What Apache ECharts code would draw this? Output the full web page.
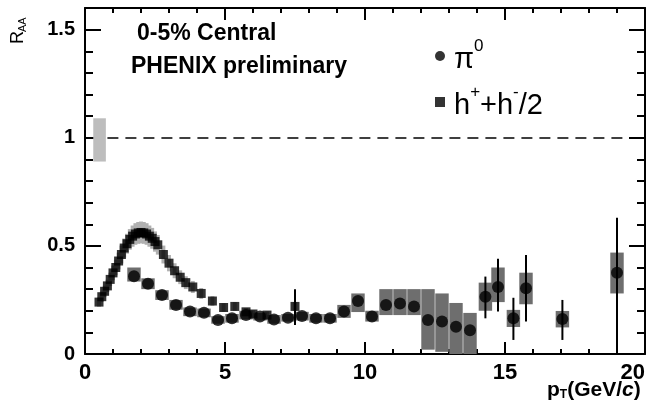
<!DOCTYPE html>
<html>
<head>
<meta charset="utf-8">
<script src="https://cdn.jsdelivr.net/npm/echarts@6/dist/echarts.min.js"></script>
<style>html,body{margin:0;padding:0;background:#fff}#c{width:654px;height:405px}</style>
</head>
<body>
<div id="c"></div>
<script>
// ---------- data ----------
const xTicks = [0, 5, 10, 15, 20];
const yTicks = [0, 0.5, 1, 1.5];

// charged hadrons (h+ + h-)/2
const hPt  = [0.5,0.6,0.7,0.8,0.9,1.0,1.1,1.2,1.3,1.4,1.5,1.6,1.7,1.8,1.9,2.0,2.1,2.2,2.3,2.4,2.5,2.6,2.8,3.0,3.2,3.4,3.6,3.85,4.15,4.55,4.95,5.35,5.75,6.0,6.5,7.5];
const hRaa = [0.24,0.265,0.29,0.315,0.345,0.375,0.40,0.43,0.46,0.49,0.51,0.53,0.545,0.555,0.56,0.562,0.56,0.555,0.545,0.535,0.52,0.505,0.46,0.42,0.385,0.355,0.33,0.31,0.28,0.245,0.215,0.22,0.195,0.185,0.18,0.22];
const hSysRel = 0.09;
const hErrPt = [7.5];
const hErrLo = [0.134];
const hErrHi = [0.30];

// pi0
const pi0Pt  = [1.75,2.25,2.75,3.25,3.75,4.25,4.75,5.25,5.75,6.25,6.75,7.25,7.75,8.25,8.75,9.25,9.75,10.25,10.75,11.25,11.75,12.25,12.75,13.25,13.75,14.3,14.75,15.3,15.75,17.05,19.0];
const pi0Raa = [0.36,0.325,0.273,0.227,0.196,0.191,0.157,0.165,0.18,0.173,0.16,0.168,0.176,0.165,0.165,0.196,0.245,0.173,0.227,0.234,0.22,0.157,0.15,0.126,0.11,0.265,0.31,0.165,0.304,0.162,0.376];
const pi0SysLo = [0.335,0.30,0.25,0.205,0.175,0.17,0.14,0.145,0.16,0.155,0.14,0.15,0.155,0.145,0.145,0.167,0.194,0.15,0.18,0.18,0.18,0.02,0.01,0.0,0.0,0.20,0.24,0.125,0.23,0.123,0.28];
const pi0SysHi = [0.40,0.35,0.295,0.25,0.215,0.21,0.175,0.185,0.20,0.19,0.18,0.185,0.195,0.185,0.185,0.227,0.28,0.20,0.30,0.30,0.30,0.30,0.28,0.236,0.19,0.33,0.40,0.204,0.376,0.199,0.469];
const pi0ErrPt = [14.3,14.75,15.3,15.75,17.05,19.0];
const pi0ErrLo = [0.165,0.196,0.065,0.15,0.065,0.0];
const pi0ErrHi = [0.358,0.44,0.26,0.458,0.25,0.63];

// normalisation uncertainty box at R_AA = 1
const normPt = [0.52];
const normLo = [0.89];
const normHi = [1.09];
const refLevel = 1;
const refStart = 0.8;

// ---------- chart ----------
const chart = echarts.init(document.getElementById('c'));

function boxSeries(data, width, color, z) {
  return {
    type: 'custom', z: z, silent: true, clip: true,
    data: data,
    renderItem: function (params, api) {
      const x = api.value(0), lo = api.value(1), hi = api.value(2);
      const p1 = api.coord([x - width / 2, hi]);
      const p2 = api.coord([x + width / 2, lo]);
      return { type: 'rect', shape: { x: p1[0], y: p1[1], width: p2[0] - p1[0], height: p2[1] - p1[1] },
               style: { fill: color } };
    }
  };
}
function errSeries(data, z) {
  return {
    type: 'custom', z: z, silent: true, clip: true,
    data: data,
    renderItem: function (params, api) {
      const x = api.value(0);
      const a = api.coord([x, api.value(1)]);
      const b = api.coord([x, api.value(2)]);
      return { type: 'line', shape: { x1: a[0], y1: a[1], x2: b[0], y2: b[1] },
               style: { stroke: '#000', lineWidth: 2 } };
    }
  };
}

const hBoxes = hPt.map((x, i) => [x, hRaa[i] * (1 - hSysRel), hRaa[i] * (1 + hSysRel)]);
const pi0Boxes = pi0Pt.map((x, i) => [x, pi0SysLo[i], pi0SysHi[i]]);
const pi0Errs = pi0ErrPt.map((x, i) => [x, pi0ErrLo[i], pi0ErrHi[i]]);
const hErrs = hErrPt.map((x, i) => [x, hErrLo[i], hErrHi[i]]);
const normBoxes = normPt.map((x, i) => [x, normLo[i], normHi[i]]);

const fam = '"Liberation Sans", Arial, sans-serif';
function axisBase(extra) {
  return Object.assign({
    type: 'value',
    axisLine: { onZero: false, lineStyle: { color: '#000', width: 2 } },
    splitLine: { show: false },
  }, extra);
}

const option = {
  animation: false,
  backgroundColor: '#fff',
  grid: { left: 85, right: 9, top: 8, bottom: 51, containLabel: false },
  xAxis: [
    axisBase({
      min: 0, max: 20, interval: 5, position: 'bottom',
      axisTick: { inside: true, length: 12, lineStyle: { color: '#000', width: 2 } },
      minorTick: { show: true, splitNumber: 5, length: 5, lineStyle: { color: '#000', width: 2 } },
      axisLabel: { color: '#000', fontFamily: fam, fontWeight: 'bold', fontSize: 22, margin: 8,
                   alignMaxLabel: 'right',
                   formatter: v => xTicks.includes(v) ? String(v) : '' },
    }),
    axisBase({
      min: 0, max: 20, interval: 5, position: 'top',
      axisTick: { inside: true, length: 12, lineStyle: { color: '#000', width: 2 } },
      minorTick: { show: true, splitNumber: 5, length: 5, lineStyle: { color: '#000', width: 2 } },
      axisLabel: { show: false },
    })
  ],
  yAxis: [
    axisBase({
      min: 0, max: 1.6, interval: 0.5, position: 'left',
      axisTick: { inside: true, length: 16, lineStyle: { color: '#000', width: 2 } },
      minorTick: { show: true, splitNumber: 5, length: 8, lineStyle: { color: '#000', width: 2 } },
      axisLabel: { color: '#000', fontFamily: fam, fontWeight: 'bold', fontSize: 20, margin: 10,
                   formatter: v => yTicks.includes(Math.round(v * 10) / 10) ? String(Math.round(v * 10) / 10) : '' },
    }),
    axisBase({
      min: 0, max: 1.6, interval: 0.5, position: 'right',
      axisTick: { inside: true, length: 16, lineStyle: { color: '#000', width: 2 } },
      minorTick: { show: true, splitNumber: 5, length: 8, lineStyle: { color: '#000', width: 2 } },
      axisLabel: { show: false },
    })
  ],
  legend: {
    orient: 'vertical', left: 430, top: 33, itemGap: 10,
    itemWidth: 10, itemHeight: 10,
    data: [ { name: 'pi0', icon: 'circle' }, { name: 'hch', icon: 'rect' } ],
    textStyle: {
      color: '#000', padding: [0, 0, 0, 4],
      rich: {
        b: { fontFamily: fam, fontSize: 29, color: '#000', lineHeight: 36, verticalAlign: 'bottom' },
        s: { fontFamily: fam, fontSize: 17, color: '#000', lineHeight: 36, verticalAlign: 'top' }
      }
    },
    formatter: n => n === 'pi0' ? '{b|π}{s|0}' : '{b|h}{s|+}{b|+h}{s|-}{b|/2}'
  },
  graphic: [
    { type: 'text', left: 137, top: 22, style: { text: '0-5% Central', fontFamily: fam, fontWeight: 'bold', fontSize: 23, fill: '#000' } },
    { type: 'text', left: 131, top: 55, style: { text: 'PHENIX preliminary', fontFamily: fam, fontWeight: 'bold', fontSize: 23, fill: '#000' } },
    { type: 'text', left: 547, top: 380, style: {
        text: '{a|p}{t|T}{a|(GeV/}{i|c}{a|)}',
        rich: {
          a: { fontFamily: fam, fontWeight: 'bold', fontSize: 21, color: '#000' },
          i: { fontFamily: fam, fontWeight: 'bold', fontStyle: 'italic', fontSize: 21, color: '#000' },
          t: { fontFamily: fam, fontWeight: 'bold', fontSize: 12, color: '#000', verticalAlign: 'bottom', padding: [9, 0, 0, 0] }
        } } },
    // rotated y-axis title R_AA (reads bottom to top)
    { type: 'text', x: 27, y: 44, rotation: Math.PI / 2,
      style: { text: 'R', fontFamily: fam, fontSize: 18, fill: '#000', align: 'left', verticalAlign: 'bottom' } },
    { type: 'text', x: 28, y: 32, rotation: Math.PI / 2,
      style: { text: 'AA', fontFamily: fam, fontSize: 11, fill: '#000', align: 'left', verticalAlign: 'bottom' } }
  ],
  series: [
    Object.assign(boxSeries(normBoxes, 0.45, '#bdbdbd', 1), { name: 'norm' }),
    {
      type: 'line', name: 'ref', data: [], silent: true, z: 1,
      markLine: { symbol: 'none', silent: true, label: { show: false },
        lineStyle: { color: '#000', type: [11, 7], width: 1.5 },
        data: [[ { coord: [refStart, refLevel] }, { coord: [20, refLevel] } ]] }
    },
    Object.assign(boxSeries(hBoxes, 0.14, '#b0b0b0', 2), { name: 'hsys' }),
    Object.assign(boxSeries(pi0Boxes, 0.48, '#6e6e6e', 3), { name: 'pi0sys' }),
    Object.assign(errSeries(pi0Errs, 4), { name: 'pi0err' }),
    Object.assign(errSeries(hErrs, 4), { name: 'herr' }),
    {
      type: 'scatter', name: 'hch', symbol: 'rect', symbolSize: 9, z: 5,
      itemStyle: { color: '#000' },
      data: hPt.map((x, i) => [x, hRaa[i]])
    },
    {
      type: 'scatter', name: 'pi0', symbol: 'circle', symbolSize: 12, z: 6,
      itemStyle: { color: '#000' },
      data: pi0Pt.map((x, i) => [x, pi0Raa[i]])
    }
  ]
};
chart.setOption(option);
</script>
</body>
</html>
